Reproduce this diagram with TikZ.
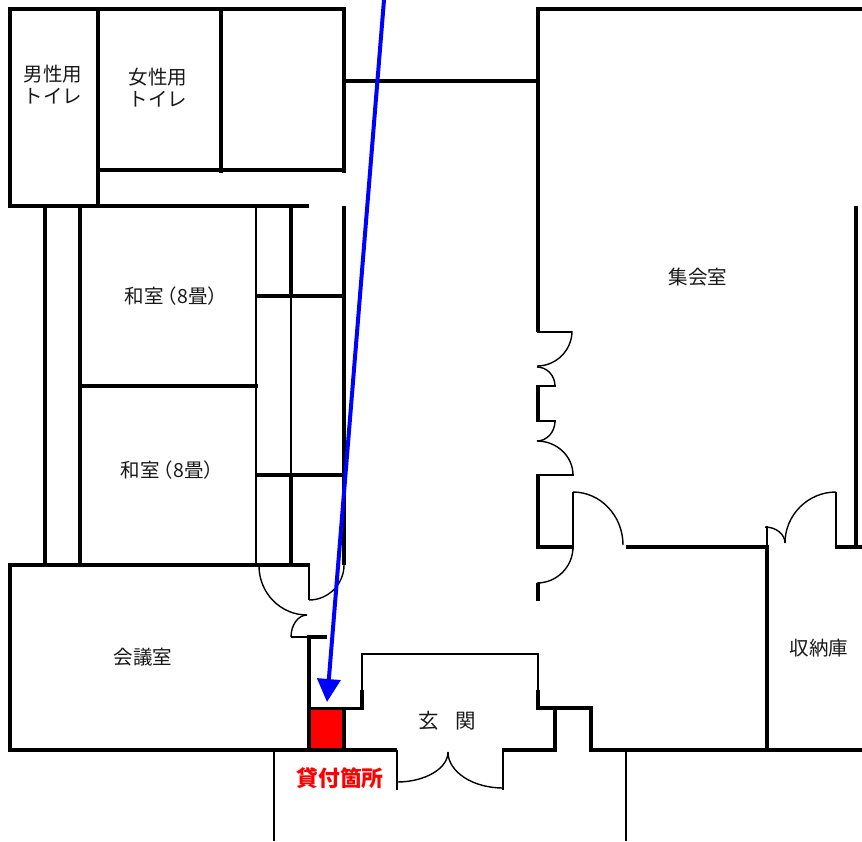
\documentclass[tikz,border=0pt]{standalone}
\usepackage{fontspec}
\setmainfont{Noto Sans CJK JP}
\usetikzlibrary{arrows.meta,calc}
\tikzset{
  wall/.style={draw=black,line width=4pt},
  midwall/.style={draw=black,line width=3pt},
  thinwall/.style={draw=black,line width=2pt},
  doorarc/.style={draw=black,line width=1.4pt},
  roomlabel/.style={font=\fontsize{19.5}{22}\selectfont,text=black!90,align=center,inner sep=0pt},
}
\newcommand\qarc[3]{\draw[doorarc] #1 .. controls ($#1!0.55!#3$) and ($#2!0.55!#3$) .. #2;}
\begin{document}
\begin{tikzpicture}[x=1pt,y=-1pt]
\useasboundingbox (0,0) rectangle (862,841);
\begin{scope}
\clip (0,0) rectangle (862,841);
% toilets block
\draw[wall] (10,7) -- (10,208);
\draw[wall] (8,9) -- (346,9);
\draw[wall] (98,9) -- (98,208);
\draw[wall] (221,9) -- (221,173);
\draw[wall] (344,7) -- (344,173);
\draw[wall] (98,170) -- (346,170);
\draw[wall] (8,206) -- (309,206);
\draw[wall] (346,81) -- (538,81);
% corridor and tatami rooms
\draw[wall] (45,206) -- (45,565);
\draw[wall] (80,206) -- (80,565);
\draw[thinwall] (256,206) -- (256,565);
\draw[wall] (291,206) -- (291,296);
\draw[thinwall] (291,296) -- (291,475);
\draw[wall] (291,475) -- (291,565);
\draw[wall] (344,206) -- (344,565);
\draw[wall] (256,296) -- (344,296);
\draw[wall] (80,385.5) -- (258,385.5);
\draw[wall] (256,475) -- (344,475);
% meeting room
\draw[wall] (10,563) -- (10,752);
\draw[wall] (8,565) -- (309,565);
\draw[thinwall] (309,563) -- (309,600);
\qarc{(344,565)}{(309,600)}{(344,600)}
\qarc{(259,566)}{(307,615)}{(259,615)}
\qarc{(307,615)}{(291,637)}{(291,615)}
\draw[thinwall] (291,637) -- (309,637);
\draw[wall] (307,637) -- (327,637);
\draw[wall] (309,635) -- (309,752);
% lending spot
\fill[red] (311,709) rectangle (342,751);
\draw[wall] (344,707) -- (344,752);
\draw[midwall] (308,708) -- (364,708);
% entrance
\draw[thinwall] (362,654) -- (362,690);
\draw[wall] (362,690) -- (362,710);
\draw[thinwall] (361,654) -- (539,654);
\draw[thinwall] (538,654) -- (538,690);
\draw[wall] (538,690) -- (538,708);
\draw[wall] (536,708) -- (593,708);
\draw[wall] (555,706) -- (555,752);
\draw[wall] (591,706) -- (591,752);
\draw[wall] (8,750) -- (397,750);
\draw[wall] (502,750) -- (557,750);
\draw[wall] (589,750) -- (862,750);
\draw[thinwall] (397,750) -- (397,790);
\draw[thinwall] (503,750) -- (503,790);
\qarc{(397,782)}{(448,752)}{(448,782)}
\qarc{(448,752)}{(503,788)}{(448,788)}
\draw[thinwall] (274,750) -- (274,841);
\draw[thinwall] (626,750) -- (626,841);
% hall
\draw[wall] (536,9) -- (862,9);
\draw[wall] (538,7) -- (538,332);
\draw[thinwall] (537,332) -- (572,332);
\qarc{(572,331)}{(537,366)}{(572,366)}
\qarc{(537,367)}{(555,386)}{(555,367)}
\draw[thinwall] (537,386) -- (556,386);
\draw[wall] (538,385) -- (538,422);
\draw[thinwall] (537,421) -- (556,421);
\qarc{(555,421)}{(537,441)}{(555,441)}
\qarc{(537,441)}{(573,475)}{(573,441)}
\draw[thinwall] (537,475) -- (574,475);
\draw[wall] (538,474) -- (538,549);
\draw[wall] (536,547) -- (574,547);
\draw[thinwall] (573,492) -- (573,547);
\qarc{(573,492)}{(623,545)}{(623,492)}
\draw[wall] (626,547) -- (769,547);
\draw[wall] (767,545) -- (767,752);
\draw[thinwall] (767,526) -- (767,547);
\qarc{(765,527)}{(785,543)}{(785,527)}
\qarc{(785,543)}{(836,492)}{(785,492)}
\draw[thinwall] (836,492) -- (836,547);
\draw[wall] (835,547) -- (862,547);
\draw[wall] (856,206) -- (856,549);
\qarc{(573,547)}{(537,583)}{(573,583)}
\draw[wall] (538,583) -- (538,601);
\end{scope}
% labels
\node[roomlabel] (men) at (53,84.5) {男性用\\トイレ};
\node[roomlabel] (women) at (158,88) {女性用\\トイレ};
\node[roomlabel,anchor=west] (wa1) at (124.5,296) {和室\hspace{-0.3em}（8畳）};
\node[roomlabel,anchor=west] (wa2) at (120.5,470) {和室\hspace{-0.3em}（8畳）};
\node[roomlabel] (hall) at (698,277) {集会室};
\node[roomlabel] (meet) at (143,657) {会議室};
\node[roomlabel] (storage) at (819,648) {収納庫};
\node[roomlabel,font=\fontsize{20.5}{24}\selectfont] (genkan) at (447,721) {玄\hspace{0.8em}関};
\node[font=\fontsize{21.8}{26}\selectfont\bfseries,text=red,inner sep=0pt] (spot) at (340,778) {貸付箇所};
% arrow
\coordinate (arrowstart) at (384,0);
\coordinate (arrowend) at (327,702);
\draw[blue,line width=4pt,-{Triangle[length=23pt,width=23pt]}] (arrowstart) -- (arrowend);
\end{tikzpicture}
\end{document}
